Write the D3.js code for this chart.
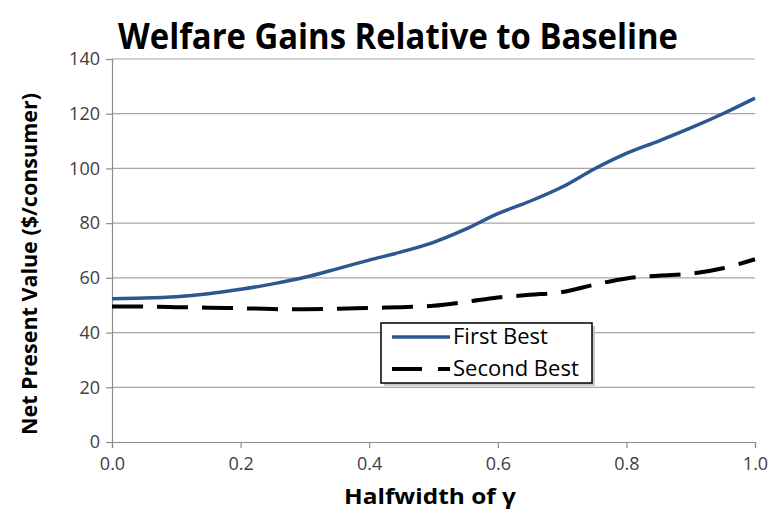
<!DOCTYPE html>
<html><head><meta charset="utf-8">
<script src="https://cdn.jsdelivr.net/npm/d3@7"></script>
<style>body{margin:0;background:#fff}svg{display:block}</style>
</head><body>
<svg id="c" width="772" height="515"></svg>
<script>
const xVals = [0,0.05,0.1,0.15,0.2,0.25,0.3,0.35,0.4,0.45,0.5,0.55,0.6,0.65,0.7,0.75,0.8,0.85,0.9,0.95,1.0];
const firstBest = [52.4,52.6,53.1,54.2,55.8,57.8,60.2,63.3,66.5,69.5,73.0,77.8,83.5,88.0,93.2,99.8,105.5,110.0,114.8,120.0,125.7];
const secondBest = [49.5,49.5,49.3,49.1,48.9,48.6,48.5,48.7,49.0,49.3,49.8,51.2,52.8,53.8,54.8,57.5,59.8,60.8,61.5,63.5,66.8];
const xTicks = [0,0.2,0.4,0.6,0.8,1.0];
const yTicks = [0,20,40,60,80,100,120,140];
const seriesNames = ["First Best","Second Best"];

const svg = d3.select("#c");
const x = d3.scaleLinear().domain([0,1]).range([112,755]);
const y = d3.scaleLinear().domain([0,140]).range([442,59]);
const font = "'Open Sans', Arial, sans-serif";

// gridlines
svg.append("g").selectAll("line").data(yTicks.filter(d=>d>0)).join("line")
  .attr("x1",x(0)).attr("x2",x(1)).attr("y1",d=>y(d)).attr("y2",d=>y(d))
  .attr("stroke","#a6a6a6").attr("stroke-width",1.2);

// axes
const yAxis = svg.append("g").attr("transform",`translate(${x(0)},0)`)
  .call(d3.axisLeft(y).tickValues(yTicks).tickSize(6).tickPadding(6).tickFormat(d3.format("d")));
const xAxis = svg.append("g").attr("transform",`translate(0,${y(0)})`)
  .call(d3.axisBottom(x).tickValues(xTicks).tickSize(6).tickPadding(9).tickFormat(d3.format(".1f")));
[yAxis,xAxis].forEach(a=>{
  a.select(".domain").attr("stroke","#8c8c8c").attr("stroke-width",1.2);
  a.selectAll(".tick line").attr("stroke","#8c8c8c").attr("stroke-width",1.2);
  a.selectAll("text").attr("font-family",font).attr("font-size",18).attr("fill","#404040");
});

// lines
const line = d3.line().x((d,i)=>x(xVals[i])).y(d=>y(d)).curve(d3.curveCatmullRom.alpha(0.5));
svg.append("path").datum(firstBest).attr("d",line)
  .attr("fill","none").attr("stroke","#2c5790").attr("stroke-width",3.5);
svg.append("path").datum(secondBest).attr("d",line)
  .attr("fill","none").attr("stroke","#000").attr("stroke-width",4)
  .attr("stroke-dasharray","31,14");

// title
svg.append("text").attr("x",398).attr("y",49).attr("text-anchor","middle")
  .attr("font-family",font).attr("font-weight","bold").attr("font-size",36)
  .attr("textLength",560).attr("lengthAdjust","spacingAndGlyphs")
  .text("Welfare Gains Relative to Baseline");

// axis titles
svg.append("text").attr("transform","translate(37,264) rotate(-90)").attr("text-anchor","middle")
  .attr("font-family",font).attr("font-weight","bold").attr("font-size",21)
  .attr("textLength",342).attr("lengthAdjust","spacingAndGlyphs")
  .text("Net Present Value ($/consumer)");
svg.append("text").attr("x",430).attr("y",504).attr("text-anchor","middle")
  .attr("font-family",font).attr("font-weight","bold").attr("font-size",21)
  .attr("textLength",172).attr("lengthAdjust","spacingAndGlyphs")
  .text("Halfwidth of γ");

// legend
const lg = svg.append("g");
lg.append("rect").attr("x",384).attr("y",326).attr("width",211).attr("height",60).attr("fill","#c8c8c8");
lg.append("rect").attr("x",381).attr("y",323).attr("width",211).attr("height",60)
  .attr("fill","#fff").attr("stroke","#000").attr("stroke-width",1.5);
const ly = [337,369];
lg.append("line").attr("x1",392).attr("x2",450).attr("y1",ly[0]).attr("y2",ly[0])
  .attr("stroke","#2c5790").attr("stroke-width",3.5);
lg.append("line").attr("x1",392).attr("x2",450).attr("y1",ly[1]).attr("y2",ly[1])
  .attr("stroke","#000").attr("stroke-width",4).attr("stroke-dasharray","30,16");
lg.selectAll("text.l").data(seriesNames).join("text").attr("class","l")
  .attr("x",453).attr("y",(d,i)=>ly[i]+7)
  .attr("font-family",font).attr("font-size",22).attr("fill","#000")
  .text(d=>d);
</script>
</body></html>
